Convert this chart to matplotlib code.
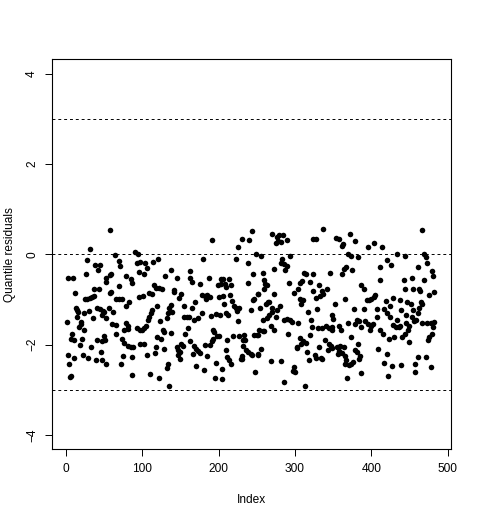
import matplotlib
matplotlib.use("Agg")
import matplotlib.pyplot as plt
import numpy as np

index = [
    1, 2, 3, 4, 5, 6, 7, 8, 9, 10, 11, 12, 13, 14, 15, 16, 17, 18, 19, 20,
    21, 22, 23, 24, 25, 26, 27, 28, 29, 30, 31, 32, 33, 34, 35, 36, 37, 38, 39, 40,
    41, 42, 43, 44, 45, 46,
    47, 47, 47, 48, 50, 50, 51, 52, 52, 53, 53, 56, 57, 58, 58, 59, 59, 60, 62, 64,
    65, 66, 66, 69, 69, 70, 71, 72, 73, 73, 74, 76, 76, 78, 79, 79, 81, 81, 81, 83,
    85, 85, 86, 86, 87, 88, 90, 93, 93, 94, 95, 95, 97, 97, 97,
    100, 101, 102, 102, 102, 104, 105, 106, 106, 107, 109, 109, 110, 111, 113, 113,
    114, 115, 116, 118, 118, 119, 119, 121, 122, 122, 123, 124, 126, 127, 128, 128,
    130, 132, 132, 133, 134, 135, 135, 137, 138, 138, 139, 141, 142, 145, 145,
    147, 147, 148, 149, 149, 151, 151, 153, 155, 155, 156, 158, 160, 161, 162, 163,
    163, 165, 165, 166, 168, 168, 169, 170, 170, 173, 173, 175, 176, 178, 178, 179,
    181, 182, 182, 184, 185, 185, 187, 188, 189, 190, 191, 191, 193, 193, 194, 195,
    197, 197, 198,
    199, 200, 200, 202, 203, 203, 204, 204, 206, 206, 207, 208, 209, 210, 210, 211,
    211, 212, 214, 214, 215, 216, 216, 217, 219, 220, 223, 223, 224, 225, 225, 227,
    227, 229, 230, 231, 231, 232, 232, 233, 235, 236, 238, 239, 239, 240, 242, 242,
    244, 244, 245, 245, 246, 246, 247, 249, 250, 251, 251,
    252, 252, 252, 253, 254, 255, 255, 258, 258, 258, 259, 260, 260, 261, 262, 263,
    263, 264, 266, 266, 268, 269, 270, 270, 270, 272, 272, 273, 275, 275, 276, 277,
    278, 279, 280, 281, 281, 282, 283, 284, 285, 286, 286, 287, 289, 290, 290, 291,
    292, 293, 294, 296, 297, 299, 299, 300, 302,
    303, 304, 304, 306, 307, 307, 308, 308, 309, 311, 311, 312, 313, 314, 315, 316,
    317, 318, 319, 320, 321, 322, 323, 324, 324, 326, 327, 328, 328, 329, 330, 332,
    332, 333, 334, 335, 335, 336, 337, 337, 339, 340, 342, 343, 345, 345, 346, 347,
    348, 348, 349, 349, 350, 352, 354, 355, 356,
    357, 357, 358, 359, 360, 361, 362, 362, 363, 364, 364, 365, 365, 366, 367, 367,
    368, 370, 370, 371, 372, 373, 373, 374, 375, 376, 377, 378, 379, 379, 381, 381,
    382, 383, 384, 384, 385, 386, 387, 387, 390, 391, 392, 394, 395, 396, 397, 398,
    399, 400, 402, 403, 404, 405, 407,
    408, 409, 411, 412, 412, 414, 415, 416, 417, 419, 420, 421, 421, 422, 423, 424,
    425, 426, 427, 429, 429, 430, 432, 434, 434, 436, 437, 438, 439, 439, 440, 443,
    444, 444, 444, 445, 446, 447, 448, 449, 450, 452, 453, 453, 454, 455, 456, 457,
    457, 459,
    461, 461, 461, 462, 463, 464, 465, 466, 466, 467, 469, 469, 471, 471, 473, 473,
    474, 476, 476, 478, 478, 479, 480, 481, 481, 482, 482,
]

resid = [
    -1.50, -2.23, -0.52, -2.44, -2.71, -2.70, -1.87, -1.77, -0.52, -2.29,
    -1.89, -0.85, -1.18, -1.24, -1.39, -1.28, -1.62, -2.02, -1.55, -1.50,
    -1.87, -2.23, -1.31, -1.68, -1.00, -0.44, -0.12, -1.00, -2.30, -1.25,
    -0.96, 0.11, -2.06, -0.94, -1.42, -0.93, -0.76, -0.23, -2.35, -1.89,
    -1.18, -0.34, -0.76, -0.23, -1.22, -2.16,
    -1.92, -1.35, -2.35, -1.25, -1.27, -1.81, -1.90, -0.52, -2.43, -0.61,
    -1.42, -1.19, -0.86, 0.53, -0.46, -0.83, -0.44, -1.55, -1.28, -0.02,
    -0.98, -1.57, -1.76, -0.71, -1.00, -0.15, -0.27, -2.43, -1.00, -1.87,
    -2.26, -1.67, -1.96, -1.15, -1.52, -0.49, -2.04, -1.59, -1.65, -1.05,
    -0.55, -2.05, -0.63, -2.68, -2.27, -2.05, 0.05, -1.64, -0.19, 0.00,
    -0.39, -0.94, -0.17, -1.68, -1.98,
    -1.68, -0.93, -0.43, -1.64, -1.98, -0.19, -1.59, -2.23, -0.31, -1.46,
    -0.86, -1.39, -2.65, -1.30, -0.88, -1.24, -0.18, -0.69, -2.18, -0.74,
    -2.05, -1.15, -1.83, -0.10, -0.75, -2.73, -1.47, -1.87, -0.77, -1.67,
    -2.09, -1.73, -0.49, -1.42, -2.52, -2.43, -1.30, -2.92, -1.18, -1.13,
    -0.34, -1.74, -1.28, -0.80, -0.84, -0.52, -2.05,
    -2.12, -2.23, -0.96, -2.16, -2.32, -0.88, -1.98, -2.04, -1.39, -1.15,
    -1.77, -1.39, -1.64, -1.39, -0.37, -0.52, -1.92, -0.62, -1.20, -2.21,
    -1.46, -2.04, -1.05, -2.09, -2.48, -1.42, -2.14, -0.65, -2.18, -0.91,
    -1.31, -0.10, -2.57, -0.93, -2.01, -0.99, -0.91, -2.26, -0.52, -0.94,
    -2.01, -1.37, 0.31, -1.93, -1.68, -1.87, -1.73, -2.74, -1.33, -2.40,
    -1.81,
    -0.69, -0.94, -1.81, -1.34, -0.54, -0.65, -2.53, -2.77, -0.55, -0.93,
    -1.09, -0.66, -0.72, -2.11, -1.30, -1.90, -2.27, -1.35, -0.55, -2.35,
    -0.91, -0.69, -2.43, -1.03, -1.81, -1.15, -0.10, -1.20, -1.25, 0.16,
    -1.47, -1.18, -1.81, -2.33, -2.26, 0.35, -2.31, -2.04, -1.89, -1.79,
    -1.90, -2.12, -0.19, -2.17, -0.63, 0.31, -1.24, -2.20, 0.52, -2.23,
    -0.43, -1.02, -0.99, -1.79, -2.60, 0.00, -1.79, -0.87, -2.23,
    -0.88, -1.79, -2.20, -1.68, -1.18, -0.04, -2.09, -0.41, -1.46, -1.70,
    -0.56, -0.76, -1.70, -0.65, -1.09, -0.69, -1.42, -1.05, -1.05, -1.34,
    -1.59, -2.36, 0.44, -1.18, -1.28, -1.68, -0.88, -0.32, 0.25, -1.39,
    0.38, -1.24, 0.30, 0.43, -1.15, 0.27, -2.36, -0.19, -0.10, 0.43,
    -2.82, -1.46, -0.22, -0.35, -1.43, 0.32, -0.27, -1.77, -0.63, -1.46,
    -0.03, -1.50, -2.58, -0.86, -2.50, -2.60, -2.08,
    -2.05, -0.76, -1.52, -1.00, -0.63, -1.86, -1.98, -1.09, -0.59, -1.02,
    -1.93, -0.41, -2.92, -0.44, -1.96, -2.16, -1.28, -2.35, -0.62, -1.78,
    -1.46, -1.61, -0.81, 0.35, -0.44, -2.23, 0.34, -2.29, -0.96, -1.21,
    -1.64, -0.69, -2.05, -0.93, -2.30, -0.81, -1.64, -2.32, 0.55, -0.87,
    -1.90, -1.59, -0.77, -2.11, -1.64, -1.99, -0.41, -2.04, -1.67, -1.35,
    -1.62, -2.08, -1.43, -1.11, 0.37, -2.05, -2.20,
    0.34, -2.14, -1.59, -2.04, -1.67, 0.18, -0.44, -2.18, 0.22, -2.05,
    -0.32, -2.26, -0.98, -2.43, -0.28, -2.35, -2.75, 0.00, -1.52, -2.45,
    0.46, -0.03, -2.42, -1.83, -0.35, -2.38, -1.22, 0.29, -1.55, -2.12,
    -1.45, -2.16, -0.06, -1.98, -2.31, -1.47, -2.26, -2.64, -0.69, -1.62,
    -0.76, -1.22, -1.47, -1.02, 0.16, -1.55, -1.02, -1.68, -1.59, -0.98,
    -1.55, -0.94, 0.25, -0.91, -1.39,
    -1.22, -2.09, -0.56, -1.68, -0.29, 0.16, -1.76, -2.40, -1.22, -1.03,
    -2.20, -0.12, -1.31, -2.70, -1.87, -1.40, -1.14, -0.24, -2.48, -0.97,
    -1.56, -1.84, -1.61, 0.00, -1.45, -1.62, -1.02, -1.58, -2.46, -1.24,
    -1.84, -0.56, -0.03, -0.77, -1.77, -1.53, -1.35, -1.05, -1.67, -1.59,
    -1.94, -1.09, -0.52, -1.40, -0.77, -1.24, -1.47, -2.42, -2.60, -1.45,
    -0.29, -1.31, -2.27, -0.77, -1.18, -0.81, -1.05, -1.11, 0.53, -1.53,
    0.00, -0.56, -0.06, -2.27, -0.19, -1.53, -1.90, -0.90, -1.83, -1.53,
    -2.49, -1.76, -0.37, -0.47, -1.61, -0.83, -1.50,
]

ref_lines = [-3, 0, 3]
x_ticks = [0, 100, 200, 300, 400, 500]
y_ticks = [-4, -2, 0, 2, 4]

plt.rcParams['font.family'] = ['Liberation Sans', 'DejaVu Sans']

fig = plt.figure(figsize=(4.78, 5.23), dpi=100)
ax = fig.add_axes([52 / 478, 73.7 / 523, 399 / 478, 390 / 523])

ax.plot(index, resid, 'o', color='black', markersize=4.0, markeredgewidth=0)
for h in ref_lines:
    ax.axhline(h, color='black', linestyle=(0, (3, 3)), linewidth=0.7)

ax.set_xlim(-18.4, 504.4)
ax.set_ylim(-4.32, 4.32)
ax.set_xticks(x_ticks)
ax.set_yticks(y_ticks)
ax.tick_params(direction='out', length=5, width=0.7, labelsize=8.6, pad=5)
for lab in ax.get_yticklabels():
    lab.set_rotation(90)
    lab.set_va('center')
for sp in ax.spines.values():
    sp.set_linewidth(0.8)

fig.text(251.5 / 478, 1 - 500 / 523, 'Index', ha='center', va='center', fontsize=8.6)
fig.text(10 / 478, 1 - 254.3 / 523, 'Quantile residuals', ha='center', va='center',
         rotation=90, fontsize=8.6)

fig.savefig('out.png', dpi=100)
